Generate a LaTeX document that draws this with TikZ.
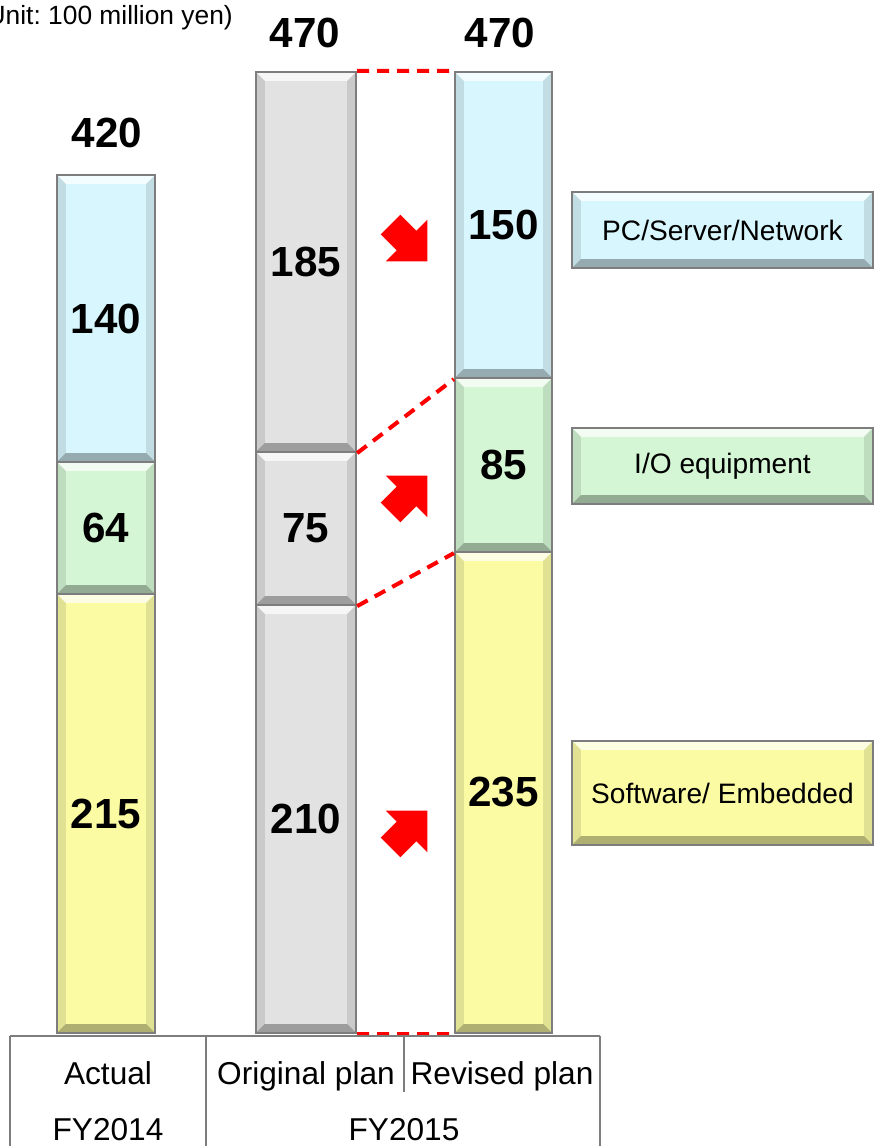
\documentclass[tikz,border=0pt]{standalone}
\usepackage{fontspec}
\setmainfont{Liberation Sans}
\usepackage{tikz}
\usetikzlibrary{shapes.arrows, positioning}
\frenchspacing

\definecolor{pcblue}{RGB}{216,246,253}
\definecolor{iogreen}{RGB}{212,246,212}
\definecolor{swyellow}{RGB}{251,251,164}
\definecolor{plangray}{RGB}{226,226,226}
\definecolor{rimgray}{RGB}{125,125,125}

\tikzstyle{seg} = [draw=rimgray, line width=1.3pt, inner sep=0pt,
  font=\fontsize{24}{28}\selectfont\bfseries,
  path picture={
    \fill[white, opacity=0.7] (path picture bounding box.north west) -- (path picture bounding box.north east)
      -- ([shift={(-5pt,-5pt)}]path picture bounding box.north east) -- ([shift={(5pt,-5pt)}]path picture bounding box.north west) -- cycle;
    \fill[black, opacity=0.10] (path picture bounding box.north west) -- ([shift={(5pt,-5pt)}]path picture bounding box.north west)
      -- ([shift={(5pt,5pt)}]path picture bounding box.south west) -- (path picture bounding box.south west) -- cycle;
    \fill[black, opacity=0.10] (path picture bounding box.north east) -- ([shift={(-5pt,-5pt)}]path picture bounding box.north east)
      -- ([shift={(-5pt,5pt)}]path picture bounding box.south east) -- (path picture bounding box.south east) -- cycle;
    \fill[black, opacity=0.30] (path picture bounding box.south west) -- (path picture bounding box.south east)
      -- ([shift={(-5pt,5pt)}]path picture bounding box.south east) -- ([shift={(5pt,5pt)}]path picture bounding box.south west) -- cycle;
  }]
\tikzstyle{tag} = [seg, minimum width=6.02cm, font=\fontsize{16}{19}\selectfont]
\tikzstyle{total} = [font=\fontsize{24}{28}\selectfont\bfseries]
\tikzstyle{link} = [red, line width=2.3pt, dash pattern=on 0.24cm off 0.16cm]
\tikzstyle{turn} = [single arrow, fill=red, inner xsep=0pt, inner ysep=0.27cm, minimum height=1.04cm,
  single arrow head extend=0.31cm]
\tikzstyle{gridline} = [draw=rimgray, line width=1.1pt]
\tikzstyle{cell} = [font=\fontsize{18}{21}\selectfont, text height=2.4ex, text depth=0.6ex]

\begin{document}
\begin{tikzpicture}[x=0.02cm, y=-0.02cm]
    \useasboundingbox (0,0) rectangle (873,1146);

    % FY2014 actual
    \node (act1) [seg, fill=pcblue, minimum width=1.96cm, minimum height=5.74cm] at (106,318.5) {140};
    \node (act2) [seg, fill=iogreen, minimum width=1.96cm, minimum height=2.64cm] at (106,528) {64};
    \node (act3) [seg, fill=swyellow, minimum width=1.96cm, minimum height=8.78cm] at (106,813.5) {215};

    % FY2015 original plan
    \node (org1) [seg, fill=plangray, minimum width=2cm, minimum height=7.6cm] at (306,262) {185};
    \node (org2) [seg, fill=plangray, minimum width=2cm, minimum height=3.06cm] at (306,528.5) {75};
    \node (org3) [seg, fill=plangray, minimum width=2cm, minimum height=8.56cm] at (306,819) {210};

    % FY2015 revised plan
    \node (rev1) [seg, fill=pcblue, minimum width=1.94cm, minimum height=6.12cm] at (503.5,225) {150};
    \node (rev2) [seg, fill=iogreen, minimum width=1.94cm, minimum height=3.48cm] at (503.5,465) {85};
    \node (rev3) [seg, fill=swyellow, minimum width=1.94cm, minimum height=9.62cm] at (503.5,792.5) {235};

    % totals
    \node (acttot) [total] at (107,133) {420};
    \node (orgtot) [total] at (305,33) {470};
    \node (revtot) [total] at (500,33) {470};
    \node (unit) [anchor=east, font=\fontsize{15}{18}\selectfont] at (239,18) {(Unit: 100 million yen)};

    % Dashed links
    \draw[link] (org1.north east) -- (rev1.north west);
    \draw[link] (org1.south east) -- (rev1.south west);
    \draw[link] (org2.south east) -- (rev2.south west);
    \draw[link] (org3.south east) -- (rev3.south west);

    % Change arrows
    \node (down1) [turn, rotate=-45] at (404,238) {};
    \node (up1) [turn, rotate=45] at (404,499) {};
    \node (up2) [turn, rotate=45] at (404,834) {};

    % Legend
    \node (tagpc) [tag, fill=pcblue, minimum height=1.52cm] at (722.5,230) {PC/Server/Network};
    \node (tagio) [tag, fill=iogreen, minimum height=1.52cm] at (722.5,466) {I/O equipment};
    \node (tagsw) [tag, fill=swyellow, minimum height=2.08cm] at (722.5,793) {Software/ Embedded};

    % Axis table
    \coordinate (tl) at (10,1036);
    \coordinate (tr) at (600,1036);
    \coordinate (tm) at (206,1036);
    \coordinate (tp) at (404,1036);
    \draw[gridline] (tl) -- (tr);
    \draw[gridline] (tl) -- ++(0,110);
    \draw[gridline] (tm) -- ++(0,110);
    \draw[gridline] (tr) -- ++(0,110);
    \draw[gridline] (tp) -- ++(0,56);
    \node (actual) [cell] at (108,1076) {Actual};
    \node (orig) [cell] at (306,1076) {Original plan};
    \node (revised) [cell] at (502,1076) {Revised plan};
    \node (fy14) [cell] at (108,1132) {FY2014};
    \node (fy15) [cell] at (404,1132) {FY2015};
\end{tikzpicture}
\end{document}
